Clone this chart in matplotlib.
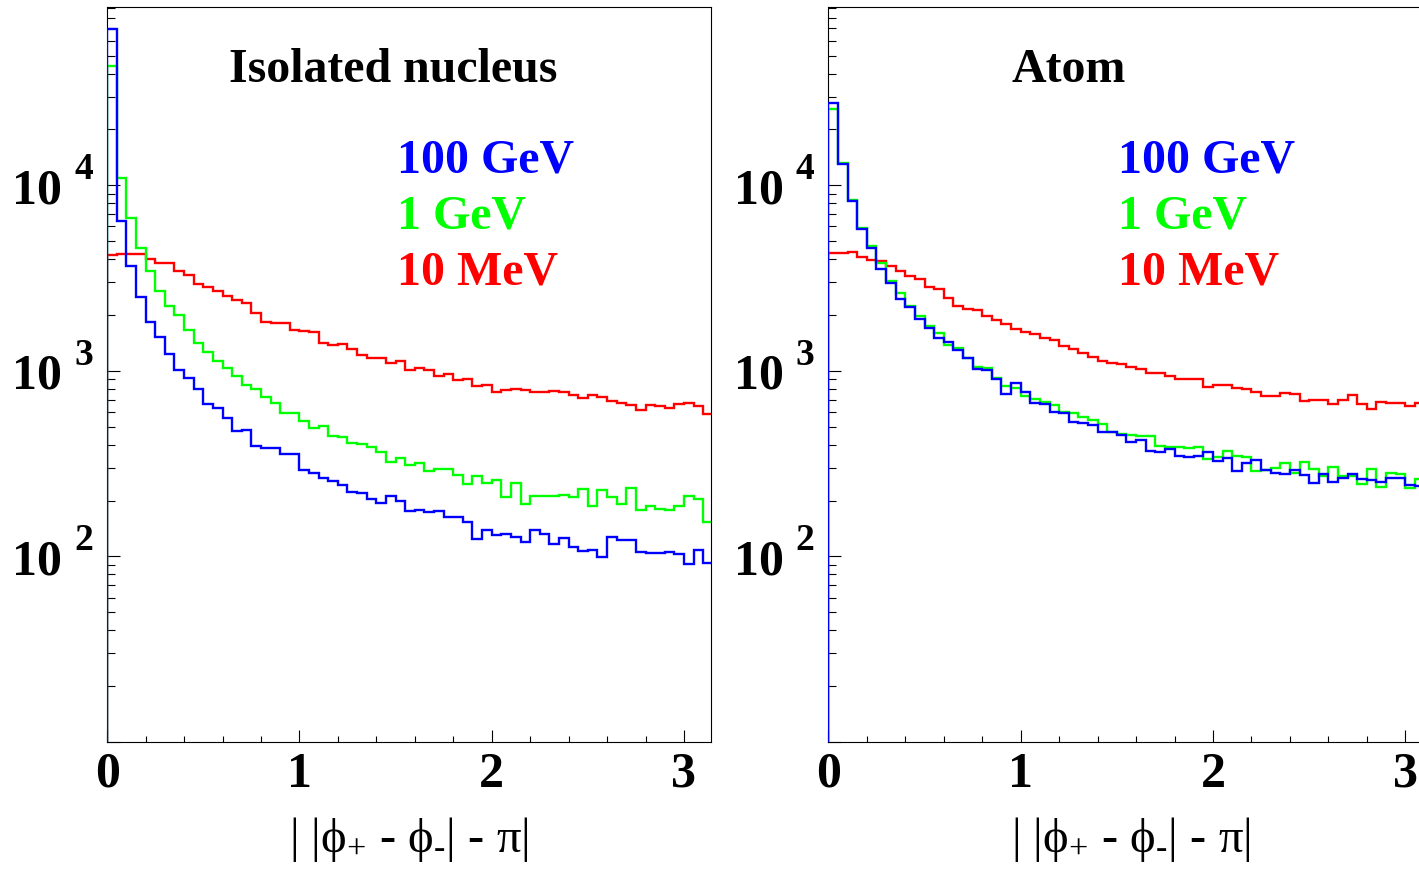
#!/usr/bin/env python3
"""Pair acoplanarity | |phi+ - phi-| - pi | for an isolated nucleus and for an atom,
at three photon energies. Log-scale step histograms, ROOT-like look."""
import numpy as np
import matplotlib
matplotlib.use("Agg")  # headless
import matplotlib.pyplot as plt
from matplotlib.ticker import LogLocator, MultipleLocator, NullFormatter, FixedLocator

# Histogram binning: 63 bins of 0.05 starting at 0 (axis is cut at pi)
BIN_WIDTH = 0.05
N_BINS = 63

# ---- Isolated nucleus (left panel), entries per bin ----
nucleus_100gev = [
    69200, 6420, 3680, 2490, 1840, 1530, 1236, 1012, 920, 800,
    664, 630, 556, 475, 479, 395, 382, 385, 355, 357,
    293, 281, 264, 256, 243, 222, 220, 205, 195, 212,
    200, 176, 177, 174, 175, 164, 164, 153, 124, 138,
    131, 132, 128, 119, 138, 132, 117, 125, 113, 107,
    108, 99, 127, 122, 122, 106, 104, 105, 106, 103,
    91, 109, 92,
]
nucleus_1gev = [
    44100, 11000, 6690, 4570, 3470, 2700, 2250, 2000, 1657, 1420,
    1270, 1133, 1034, 940, 841, 800, 727, 670, 592, 596,
    540, 491, 506, 447, 441, 408, 403, 391, 365, 321,
    340, 311, 320, 287, 296, 297, 274, 245, 273, 250,
    259, 208, 250, 191, 212, 212, 212, 215, 210, 230,
    186, 229, 209, 192, 233, 179, 186, 181, 177, 188,
    212, 205, 153,
]
nucleus_10mev = [
    4215, 4280, 4270, 4270, 4030, 3800, 3800, 3470, 3280, 2930,
    2820, 2690, 2535, 2410, 2325, 2050, 1840, 1820, 1820, 1663,
    1650, 1610, 1420, 1376, 1393, 1314, 1220, 1170, 1180, 1100,
    1136, 1009, 1042, 1016, 936, 963, 894, 909, 833, 838,
    774, 793, 803, 784, 774, 771, 780, 768, 743, 716,
    743, 722, 692, 670, 656, 617, 656, 648, 630, 659,
    673, 648, 589,
]

# ---- Atom (right panel) ----
atom_100gev = [
    27600, 12970, 8260, 5800, 4590, 3530, 2970, 2430, 2220, 1900,
    1700, 1512, 1433, 1297, 1180, 1025, 1012, 903, 752, 865,
    774, 675, 664, 601, 596, 527, 521, 512, 468, 466,
    452, 415, 425, 372, 365, 379, 346, 344, 348, 365,
    328, 341, 287, 318, 331, 293, 281, 278, 293, 276,
    250, 278, 253, 264, 278, 262, 259, 253, 266, 264,
    243, 240, 243,
]
atom_1gev = [
    25700, 13140, 8330, 5870, 4730, 3800, 3040, 2620, 2240, 1980,
    1750, 1597, 1380, 1325, 1170, 1047, 1034, 920, 830, 807,
    736, 707, 678, 656, 599, 592, 567, 545, 518, 468,
    458, 452, 448, 443, 395, 390, 391, 384, 387, 335,
    343, 372, 346, 343, 287, 293, 299, 318, 281, 322,
    296, 270, 303, 270, 272, 246, 296, 238, 283, 279,
    234, 261, 259,
]
atom_10mev = [
    4300, 4330, 4360, 4100, 3960, 3930, 3680, 3456, 3260, 3120,
    2845, 2765, 2464, 2248, 2166, 2123, 1986, 1885, 1785, 1678,
    1616, 1583, 1501, 1464, 1367, 1314, 1245, 1194, 1132, 1100,
    1091, 1047, 1025, 972, 976, 943, 903, 903, 900, 823,
    839, 840, 810, 798, 774, 733, 731, 759, 747, 689,
    701, 701, 662, 694, 743, 667, 623, 683, 670, 670,
    646, 670, 673,
]

energies = ["100 GeV", "1 GeV", "10 MeV"]
colors = ["#0000ff", "#00ff00", "#ff0000"]
panel_titles = ["Isolated nucleus", "Atom"]
decades = [1e2, 1e3, 1e4]
decade_exps = ["2", "3", "4"]
x_ticks = [0, 1, 2, 3]
# plain hyphen (U+2010) in the subscript so mathtext does not turn it into a long minus
x_label = "| |$\\mathrm{\\phi_{+}}$ - $\\mathrm{\\phi_{\u2010}}$| - $\\mathrm{\\pi}$|"

plt.rcParams["font.family"] = ["Liberation Serif", "DejaVu Serif"]
plt.rcParams["mathtext.fontset"] = "custom"
plt.rcParams["mathtext.rm"] = "Liberation Serif"
plt.rcParams["mathtext.it"] = "Liberation Serif:italic"
plt.rcParams["mathtext.bf"] = "Liberation Serif:bold"


def draw_panel(ax, title, title_x, series):
    edges = np.arange(N_BINS + 1) * BIN_WIDTH
    # red first, blue last so blue sits on top like in the original
    for vals, col in reversed(list(zip(series, colors))):
        ax.stairs(vals, edges, baseline=1.0, color=col, lw=1.7, zorder=3)

    ax.set_yscale("log")
    ax.set_xlim(0, np.pi)
    ax.set_ylim(10, 9.09e4)

    for sp in ax.spines.values():
        sp.set_linewidth(0.8)

    # ticks inside, left and bottom only
    ax.yaxis.set_major_locator(FixedLocator([1e1] + decades))
    ax.yaxis.set_minor_locator(LogLocator(base=10, subs=range(2, 10), numticks=20))
    ax.yaxis.set_major_formatter(NullFormatter())
    ax.yaxis.set_minor_formatter(NullFormatter())
    ax.xaxis.set_major_locator(FixedLocator(x_ticks))
    ax.xaxis.set_minor_locator(MultipleLocator(0.2))
    ax.tick_params(which="both", direction="in", top=False, right=False, width=0.8)
    ax.tick_params(axis="y", which="major", length=9.5)
    ax.tick_params(axis="y", which="minor", length=5.5)
    ax.tick_params(axis="x", which="major", length=8.5, pad=7)
    ax.tick_params(axis="x", which="minor", length=4.5)
    ax.set_xticklabels([str(t) for t in x_ticks], fontsize=36, fontweight="bold")

    # ROOT style "10 ^n" labels
    for val, exp in zip(decades, decade_exps):
        ax.annotate("10", xy=(0, val), xycoords=("axes fraction", "data"),
                    xytext=(-45, -18), textcoords="offset pixels",
                    ha="right", va="baseline", fontsize=36, fontweight="bold")
        ax.annotate(exp, xy=(0, val), xycoords=("axes fraction", "data"),
                    xytext=(-33, 6), textcoords="offset pixels",
                    ha="left", va="baseline", fontsize=27, fontweight="bold")

    ax.text(title_x, 0.8983, title, transform=ax.transAxes, ha="center",
            va="baseline", fontsize=34.5, fontweight="bold")
    for i, (lab, col) in enumerate(zip(energies, colors)):
        ax.text(0.48, 0.7758 - 0.0762 * i, lab, transform=ax.transAxes, ha="left",
                va="baseline", fontsize=34.5, fontweight="bold", color=col)

    ax.text(0.5, -0.1497, x_label, transform=ax.transAxes, ha="center",
            va="baseline", fontsize=35)


def main():
    fig = plt.figure(figsize=(14.19, 8.69), dpi=100)
    ax_l = fig.add_axes([0.0755, 0.1461, 0.4257, 0.8454])
    ax_r = fig.add_axes([0.5838, 0.1461, 0.4257, 0.8454])

    draw_panel(ax_l, panel_titles[0], 0.473, [nucleus_100gev, nucleus_1gev, nucleus_10mev])
    draw_panel(ax_r, panel_titles[1], 0.397, [atom_100gev, atom_1gev, atom_10mev])

    fig.savefig("out.png", dpi=100)
    plt.close(fig)


if __name__ == "__main__":
    main()
